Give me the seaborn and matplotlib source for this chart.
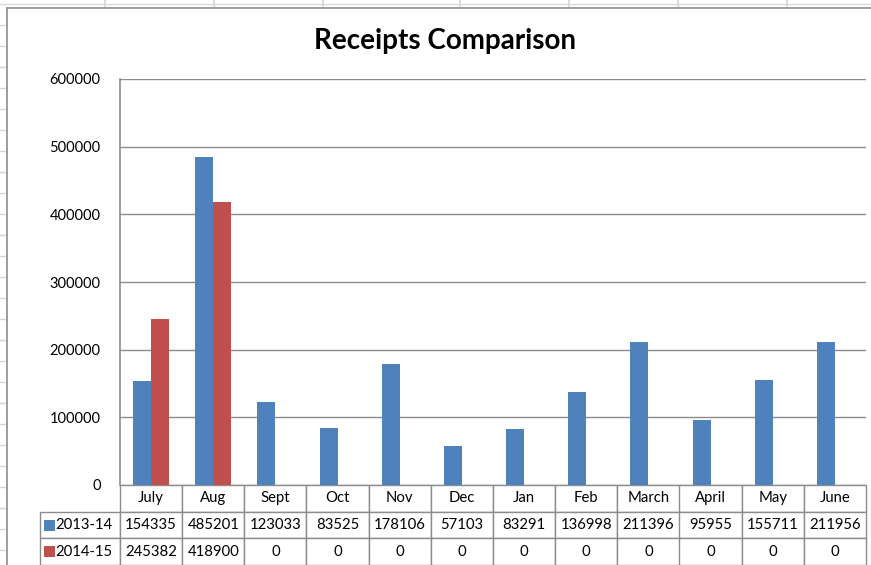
import pandas as pd
import seaborn as sns
import matplotlib.pyplot as plt
from matplotlib.patches import Rectangle
from matplotlib.lines import Line2D


#######################  DATA  #######################

months = ['July', 'Aug', 'Sept', 'Oct', 'Nov', 'Dec',
          'Jan', 'Feb', 'March', 'April', 'May', 'June']
years = ['2013-14', '2014-15']
receipts_1314 = [154335, 485201, 123033, 83525, 178106, 57103,
                 83291, 136998, 211396, 95955, 155711, 211956]
receipts_1415 = [245382, 418900, 0, 0, 0, 0, 0, 0, 0, 0, 0, 0]
y_ticks = [0, 100000, 200000, 300000, 400000, 500000, 600000]

colors = ['#4F81BD', '#C0504D']
grid_gray = '#8C8C8C'


#######################  PLOT  #######################

df = pd.DataFrame({
    'Month': months * 2,
    'Year': [years[0]] * len(months) + [years[1]] * len(months),
    'Receipts': receipts_1314 + receipts_1415,
})

sns.set_style('white')
plt.rcParams['font.family'] = ['Lato', 'DejaVu Sans']

W, H = 871, 565
fig = plt.figure(figsize=(W / 100, H / 100), dpi=100)

# plot area in pixels: x 120..866, y 79..485
px_l, px_r, px_t, px_b = 120, 866, 79, 485
ax = fig.add_axes([px_l / W, 1 - px_b / H, (px_r - px_l) / W, (px_b - px_t) / H])
ax_w, ax_h = px_r - px_l, px_b - px_t

sns.barplot(data=df, x='Month', y='Receipts', hue='Year', order=months,
            hue_order=years, palette=colors, width=0.58, linewidth=0,
            saturation=1, legend=False, ax=ax)

ax.set_ylim(0, 600000)
ax.set_yticks(y_ticks)
ax.set_yticklabels([str(t) for t in y_ticks], fontsize=10.5, color='black')
ax.set_xticks([])
ax.set_xlabel('')
ax.set_ylabel('')
ax.tick_params(axis='y', length=0, pad=14)
ax.yaxis.grid(True, color=grid_gray, linewidth=1)
ax.set_axisbelow(True)
for side in ['top', 'right', 'bottom']:
    ax.spines[side].set_visible(False)
ax.spines['left'].set_color(grid_gray)
ax.spines['left'].set_linewidth(1.2)

# data table under the chart (Excel style)
label_w = 80
cell_text = [[''] + months,
             [years[0]] + [str(v) for v in receipts_1314],
             [years[1]] + [str(v) for v in receipts_1415]]
col_w = [label_w / ax_w] + [1 / len(months)] * len(months)
table = ax.table(cellText=cell_text, colWidths=col_w, cellLoc='center',
                 bbox=[-label_w / ax_w, -80 / ax_h, 1 + label_w / ax_w, 80 / ax_h])
table.auto_set_font_size(False)
table.set_fontsize(10.7)
for (r, c), cell in table.get_celld().items():
    cell.set_edgecolor(grid_gray)
    cell.set_linewidth(1)
    cell.get_text().set_color('black')
    if r == 0 and c == 0:
        cell.visible_edges = ''
    elif c == 0:
        cell.get_text().set_ha('right')
        cell._loc = 'right'

# legend keys inside the row labels
row_h = 80 / 3
for i, col in enumerate(colors):
    yc = -(row_h * (i + 1.5)) / ax_h
    ax.add_patch(Rectangle(((44 - px_l) / ax_w, yc - 5.5 / ax_h), 11 / ax_w, 11 / ax_h,
                           facecolor=col, edgecolor='none',
                           transform=ax.transAxes, clip_on=False))

fig.text(445 / W, 1 - 41 / H, 'Receipts Comparison', ha='center', va='center',
         fontsize=20, fontweight='bold', color='black')

# spreadsheet background and chart area border
for x in [105, 214, 323, 460, 569, 678, 787]:
    fig.add_artist(Line2D([x / W, x / W], [1 - 7 / H, 1], color='#D4D4D4', lw=1.2))
fig.add_artist(Line2D([0, 1], [1 - 4 / H, 1 - 4 / H], color='#DADADA', lw=1))
for y in range(25, H, 21):
    fig.add_artist(Line2D([0, 6 / W], [1 - y / H, 1 - y / H], color='#D4D4D4', lw=1))
fig.add_artist(Line2D([7 / W, 7 / W], [0, 1 - 8 / H], color='#8C8C8C', lw=1.2))
fig.add_artist(Line2D([7 / W, 1], [1 - 8 / H, 1 - 8 / H], color='#8C8C8C', lw=1.2))

fig.savefig('out.png', dpi=100)
